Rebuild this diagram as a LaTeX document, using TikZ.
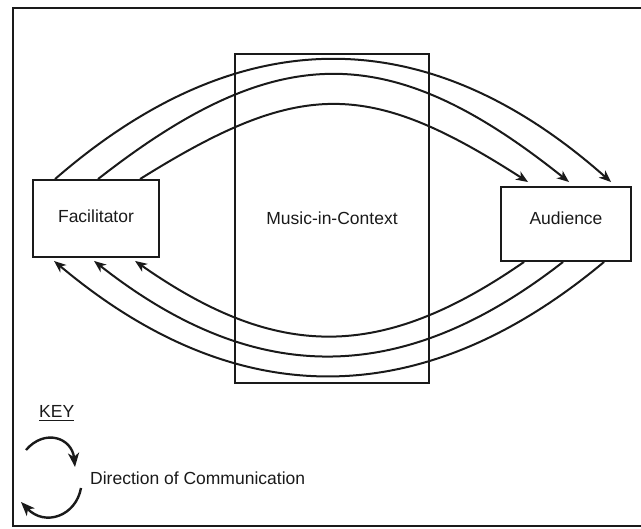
\documentclass[tikz,border=0pt]{standalone}
\usepackage{fontspec}
\setmainfont{Liberation Sans}
\usetikzlibrary{arrows.meta}
\definecolor{ink}{HTML}{1A1A1A}
\begin{document}
\begin{tikzpicture}[x=1pt,y=-1pt,
  txt/.style={inner sep=0pt,text=ink,font=\fontsize{17.5}{20}\selectfont},
  box/.style={txt,draw=ink,line width=1.9pt},
  arc/.style={draw=ink,line width=2pt,-{Stealth[length=12pt,width=9.5pt,inset=3.5pt]}},
  keyarc/.style={draw=ink,line width=2.4pt,-{Stealth[length=14pt,width=11pt,inset=4pt]}}]
\useasboundingbox (0,0) rectangle (641,529);
\draw[ink,line width=2.4pt] (13,8) rectangle (680,526);
% boxes
\node[box,minimum width=126pt,minimum height=77pt,text depth=5pt] (fac) at (96,218.5) {Facilitator};
\node[box,minimum width=194pt,minimum height=329pt] (mic) at (332,218.5) {Music-in-Context};
\node[box,minimum width=130pt,minimum height=74pt,text depth=11pt] (aud) at (566,224) {Audience};
% upper arcs: facilitator -> audience
\draw[arc] ([xshift=23pt]fac.north west) .. controls +(184,-160) and +(-184,-163) .. ([xshift=111pt,yshift=4pt]aud.north west);
\draw[arc] ([xshift=66pt]fac.north west) .. controls +(179,-140) and +(-179,-143) .. ([xshift=69pt,yshift=4pt]aud.north west);
\draw[arc] ([xshift=108pt]fac.north west) .. controls +(160,-100) and +(-160,-103) .. ([xshift=28pt,yshift=4pt]aud.north west);
% lower arcs: audience -> facilitator
\draw[arc] ([xshift=104pt]aud.south west) .. controls +(-182,152) and +(182,153) .. ([xshift=22pt,yshift=-3pt]fac.south west);
\draw[arc] ([xshift=63pt]aud.south west) .. controls +(-161,125.5) and +(161,126.5) .. ([xshift=62pt,yshift=-3pt]fac.south west);
\draw[arc] ([xshift=24pt]aud.south west) .. controls +(-143,99) and +(143,100) .. ([xshift=103pt,yshift=-3pt]fac.south west);
% key
\node[txt,anchor=base west] (key) at (39,418) {KEY};
\draw[ink,line width=1.3pt] ([yshift=-2.5pt]key.base west) -- ([yshift=-2.5pt]key.base east);
\coordinate (k1) at (26,450);
\coordinate (k2) at (75,467);
\coordinate (k3) at (81,488);
\coordinate (k4) at (21,502);
\draw[keyarc] (k1) .. controls (45,428) and (72,438) .. (k2);
\draw[keyarc] (k3) .. controls (76,516) and (45,527) .. (k4);
\node[txt,anchor=west] (dir) at (90,478) {Direction of Communication};
\end{tikzpicture}
\end{document}
